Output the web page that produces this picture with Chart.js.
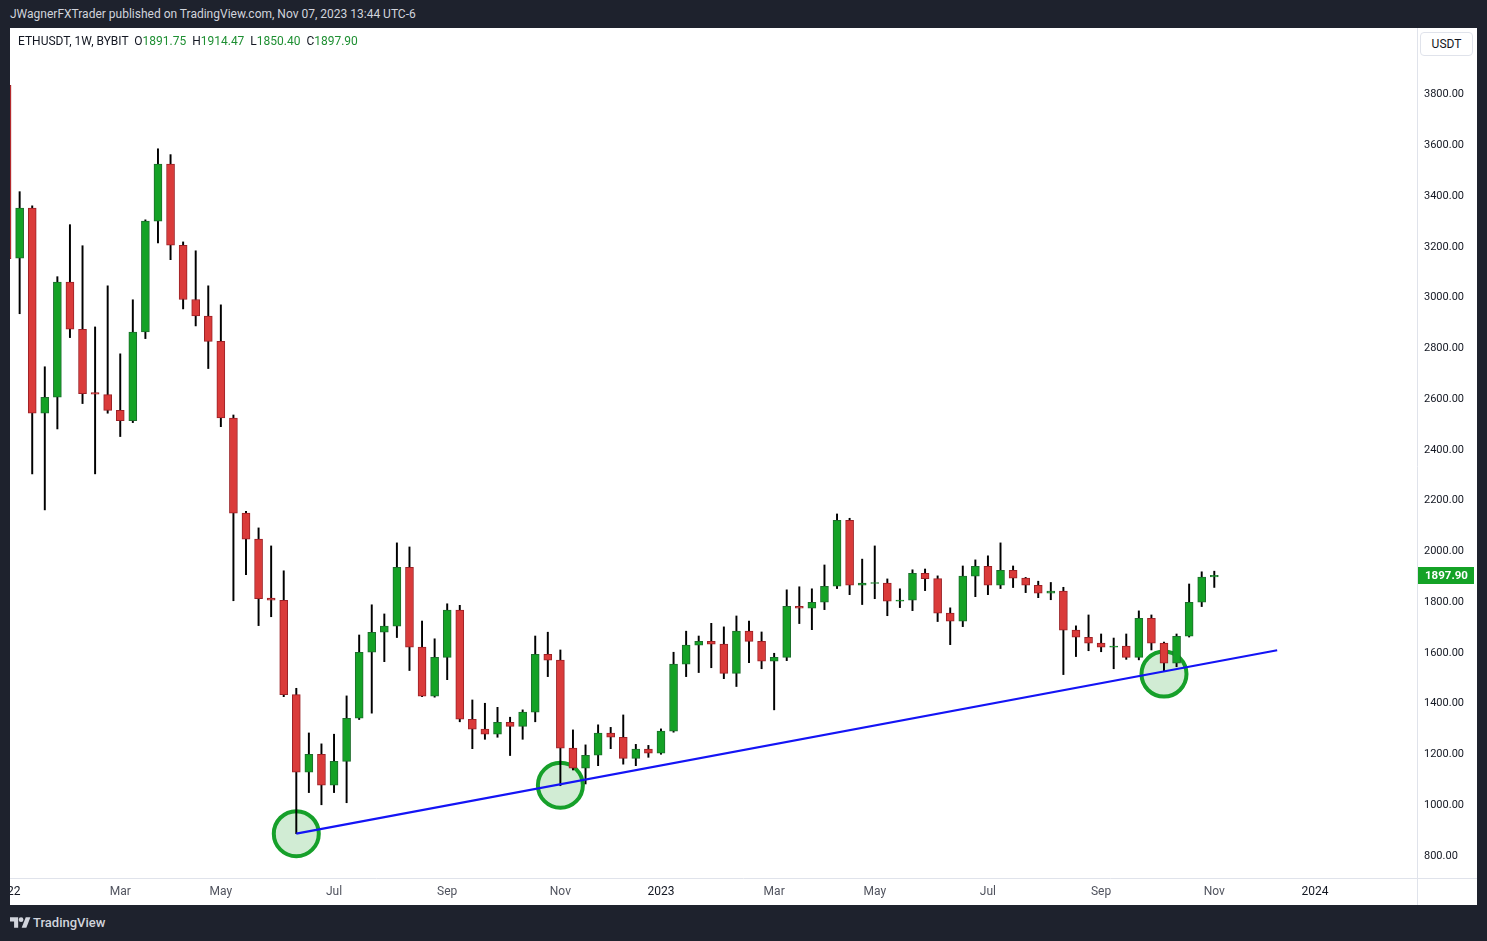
<!DOCTYPE html>
<html>
<head>
<meta charset="utf-8">
<title>ETHUSDT 1W BYBIT</title>
<script src="https://cdn.jsdelivr.net/npm/chart.js@4.4.0/dist/chart.umd.min.js"></script>
<style>
  html, body { margin: 0; padding: 0; }
  body {
    width: 1487px; height: 941px; background: #1e222d;
    position: relative; overflow: hidden;
    font-family: Roboto, "Noto Sans", sans-serif;
  }
  #published { position: absolute; left: 10px; top: 7px; font-size: 12px; color: #d1d4dc; }
  #panel { position: absolute; left: 10px; top: 28px; width: 1467px; height: 877px; background: #fff; }
  #panel canvas { position: absolute; left: 0; top: 0; }
  #legend { position: absolute; left: 8px; top: 6px; font-size: 12px; color: #131722; white-space: pre; z-index: 2; }
  #legend .v { color: #1e8f32; }
  #unit {
    position: absolute; left: 1410px; top: 4px; width: 53px; height: 24px;
    border: 1px solid #e0e3eb; border-radius: 4px; box-sizing: border-box;
    font-size: 12px; color: #131722; text-align: center; line-height: 22px; z-index: 2; background: #fff;
  }
  #footer { position: absolute; left: 10px; top: 913px; height: 18px; display: flex; align-items: center; color: #d1d4dc; }
  #footer span { font-size: 13px; font-weight: 500; margin-left: 2px; }
</style>
</head>
<body>
<div id="published">JWagnerFXTrader published on TradingView.com, Nov 07, 2023 13:44 UTC-6</div>
<div id="panel">
  <div id="legend">ETHUSDT, 1W, BYBIT  O<span class="v">1891.75</span>  H<span class="v">1914.47</span>  L<span class="v">1850.40</span>  C<span class="v">1897.90</span></div>
  <div id="unit">USDT</div>
  <canvas id="ethChart" width="1467" height="877"></canvas>
</div>
<div id="footer">
  <svg width="21" height="14" viewBox="0 0 36 24"><path d="M14 22H7V11H0V4h14v18z" fill="#d1d4dc"/><circle cx="19" cy="8" r="4" fill="#d1d4dc"/><path d="M20 22h8l7-18h-8z" fill="#d1d4dc"/></svg>
  <span>TradingView</span>
</div>
<script>
// weekly candles, Jan 3 2022 -> Nov 6 2023
const opens = [3829, 3148, 3345, 2537, 2600, 3054, 2868, 2618, 2610, 2548,
  2508, 2857, 3294, 3519, 3199, 2985, 2920, 2820, 2518, 2143,
  2041, 1808, 1800, 1428, 1122, 1193, 1071, 1165, 1335, 1595,
  1674, 1698, 1930, 1615, 1422, 1575, 1761, 1331, 1292, 1272,
  1319, 1303, 1359, 1587, 1564, 1217, 1138, 1189, 1276, 1260,
  1177, 1213, 1197, 1284, 1548, 1623, 1638, 1627, 1512, 1678,
  1638, 1560, 1575, 1776, 1769, 1792, 1855, 2115, 1859, 1866,
  1868, 1796, 1800, 1906, 1885, 1749, 1717, 1895, 1934, 1859,
  1918, 1887, 1859, 1828, 1836, 1682, 1654, 1631, 1615, 1619,
  1575, 1729, 1631, 1552, 1658, 1792, 1891.75];
const highs = [3900, 3410, 3354, 2720, 3075, 3280, 3197, 2877, 3039, 2771,
  2984, 3299, 3579, 3556, 3212, 3177, 3039, 2964, 2530, 2150,
  2085, 2014, 1916, 1453, 1277, 1234, 1272, 1423, 1663, 1782,
  1746, 2026, 2010, 1718, 1648, 1786, 1780, 1407, 1394, 1378,
  1339, 1368, 1659, 1674, 1604, 1289, 1230, 1309, 1299, 1348,
  1232, 1228, 1293, 1595, 1678, 1659, 1709, 1695, 1738, 1718,
  1675, 1591, 1841, 1853, 1845, 1939, 2140, 2123, 1962, 2014,
  1884, 1845, 1920, 1923, 1896, 1770, 1935, 1959, 1975, 2026,
  1935, 1890, 1875, 1870, 1851, 1699, 1742, 1667, 1651, 1667,
  1758, 1742, 1635, 1667, 1864, 1912, 1914.47];
const lows = [3000, 2929, 2298, 2156, 2475, 2835, 2575, 2298, 2537, 2445,
  2500, 2831, 3208, 3142, 2948, 2881, 2713, 2484, 1798, 1901,
  1700, 1735, 1420, 880, 1042, 994, 1042, 1002, 1330, 1355,
  1558, 1653, 1523, 1420, 1418, 1487, 1321, 1215, 1252, 1260,
  1188, 1252, 1321, 1499, 1069, 1131, 1076, 1148, 1215, 1154,
  1148, 1181, 1193, 1280, 1499, 1515, 1534, 1491, 1460, 1554,
  1530, 1368, 1562, 1708, 1684, 1763, 1846, 1822, 1783, 1806,
  1739, 1771, 1759, 1838, 1716, 1625, 1696, 1814, 1822, 1846,
  1850, 1830, 1810, 1802, 1507, 1578, 1601, 1597, 1530, 1567,
  1565, 1604, 1519, 1538, 1655, 1775, 1850.40];
const closes = [3146, 3345, 2537, 2600, 3054, 2868, 2614, 2612, 2548, 2508,
  2857, 3294, 3519, 3199, 2985, 2920, 2820, 2518, 2143, 2041,
  1806, 1800, 1428, 1122, 1193, 1071, 1165, 1335, 1595, 1674,
  1698, 1930, 1615, 1422, 1575, 1761, 1331, 1292, 1272, 1319,
  1303, 1359, 1587, 1564, 1217, 1138, 1189, 1276, 1260, 1177,
  1213, 1197, 1284, 1548, 1623, 1638, 1627, 1512, 1678, 1638,
  1560, 1575, 1776, 1769, 1792, 1855, 2115, 1859, 1868, 1870,
  1796, 1801, 1906, 1885, 1749, 1717, 1895, 1934, 1859, 1918,
  1887, 1859, 1828, 1836, 1682, 1654, 1631, 1615, 1619, 1575,
  1729, 1631, 1552, 1658, 1792, 1891, 1897.90];

// time axis: week number from Jan 3 2022
const tickWeeks = [0, 9, 17, 26, 35, 44, 52, 61, 69, 78, 87, 96, 104];
const tickLabels = ['2022', 'Mar', 'May', 'Jul', 'Sep', 'Nov', '2023', 'Mar', 'May', 'Jul', 'Sep', 'Nov', '2024'];
const priceTicks = [800, 1000, 1200, 1400, 1600, 1800, 2000, 2200, 2400, 2600, 2800, 3000, 3200, 3400, 3600, 3800];

// drawings: support line and the three touches
const trendWeeks = [23, 101];
const trendPrices = [880, 1603];
const touchWeeks = [23, 44, 92];
const touchPrices = [880, 1071, 1509];

const UP = '#14a226', UP_EDGE = '#1c6e2c';
const DOWN = '#da3b3a', DOWN_EDGE = '#9c2126';

const isUp = i => closes[i] >= opens[i];

const wicks = opens.map((o, i) => ({ x: i, y: [lows[i], highs[i]] }));
const bodies = opens.map((o, i) => ({ x: i, y: [o, closes[i]] }));
const trend = trendWeeks.map((w, i) => ({ x: w, y: trendPrices[i] }));
const touches = touchWeeks.map((w, i) => ({ x: w, y: touchPrices[i] }));

// no label overflow padding, the plot has to fill the panel
function noPadding(scale) {
  scale.paddingLeft = 0;
  scale.paddingRight = 0;
  scale.paddingTop = 0;
  scale.paddingBottom = 0;
}

// axis separators + last price tag
const framePlugin = {
  id: 'framePlugin',
  afterDraw(chart) {
    const { ctx, chartArea, scales } = chart;
    ctx.save();
    ctx.strokeStyle = '#e0e3eb';
    ctx.lineWidth = 1;
    ctx.beginPath();
    ctx.moveTo(0, Math.round(chartArea.bottom) + 0.5);
    ctx.lineTo(chart.width, Math.round(chartArea.bottom) + 0.5);
    ctx.moveTo(Math.round(chartArea.right) + 0.5, 0);
    ctx.lineTo(Math.round(chartArea.right) + 0.5, chart.height);
    ctx.stroke();

    const last = closes[closes.length - 1];
    const y = Math.round(scales.y.getPixelForValue(last));
    ctx.fillStyle = UP;
    ctx.fillRect(Math.round(chartArea.right) + 1, y - 8, 56, 17);
    ctx.fillStyle = '#ffffff';
    ctx.font = 'bold 11.5px Roboto';
    ctx.textAlign = 'left';
    ctx.textBaseline = 'middle';
    ctx.fillText(last.toFixed(2), Math.round(chartArea.right) + 8, y + 1);
    ctx.restore();
  }
};

Chart.defaults.font.family = 'Roboto, "Noto Sans", sans-serif';
Chart.defaults.font.size = 12;

const ctx = document.getElementById('ethChart').getContext('2d');

const ethChart = new Chart(ctx, {
  type: 'bar',
  data: {
    datasets: [
      {
        type: 'line',
        data: trend,
        borderColor: '#1414f5',
        borderWidth: 2.2,
        pointRadius: 0,
        order: 0
      },
      {
        data: bodies,
        grouped: false,
        barThickness: 8,
        borderWidth: 1,
        borderSkipped: false,
        backgroundColor: c => isUp(c.dataIndex) ? UP : DOWN,
        borderColor: c => isUp(c.dataIndex) ? UP_EDGE : DOWN_EDGE,
        order: 1
      },
      {
        data: wicks,
        grouped: false,
        barThickness: 1.3,
        borderWidth: 0,
        backgroundColor: '#000000',
        order: 2
      },
      {
        type: 'line',
        data: touches,
        showLine: false,
        pointRadius: 22.5,
        pointBorderWidth: 4,
        pointBorderColor: '#16a02a',
        pointBackgroundColor: 'rgba(25, 160, 40, 0.2)',
        order: 3
      }
    ]
  },
  options: {
    responsive: false,
    animation: false,
    devicePixelRatio: 1,
    layout: { padding: 0, autoPadding: false },
    plugins: {
      legend: { display: false },
      tooltip: { enabled: false }
    },
    scales: {
      x: {
        type: 'linear',
        min: 0.233,
        max: 112.12,
        bounds: 'data',
        offset: false,
        grid: { display: false, drawTicks: false },
        border: { display: false },
        afterBuildTicks: scale => { scale.ticks = tickWeeks.map(v => ({ value: v })); },
        afterFit: scale => { scale.height = 27; noPadding(scale); },
        ticks: {
          autoSkip: false,
          maxRotation: 0,
          padding: 7,
          color: c => (tickLabels[c.index] || '').length === 4 ? '#131722' : '#50535e',
          callback: (value, index) => tickLabels[index]
        }
      },
      y: {
        position: 'right',
        min: 705.4,
        max: 4055,
        bounds: 'data',
        grid: { display: false, drawTicks: false },
        border: { display: false },
        afterBuildTicks: scale => { scale.ticks = priceTicks.map(v => ({ value: v })); },
        afterFit: scale => { scale.width = 60; noPadding(scale); },
        ticks: {
          padding: 7,
          labelOffset: 2,
          color: '#131722',
          font: { size: 11 },
          callback: value => Number(value).toFixed(2)
        }
      }
    }
  },
  plugins: [framePlugin]
});
</script>
</body>
</html>
